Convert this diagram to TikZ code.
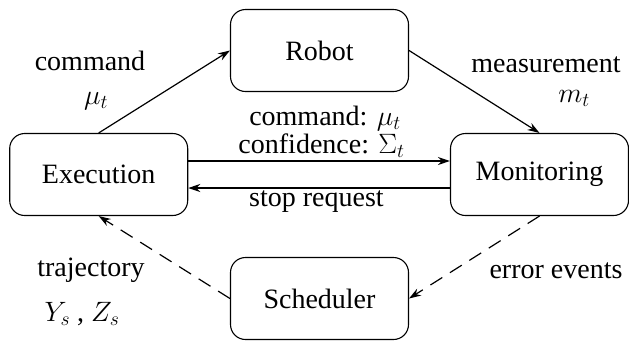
\RequirePackage{fix-cm}
\documentclass[tikz,border=0pt]{standalone}
\usepackage{fontspec}
\setmainfont{Liberation Serif}
\usetikzlibrary{arrows.meta}

\tikzset{
  block/.style={draw, line width=1.1pt, rounded corners=15pt,
    minimum width=178pt, minimum height=82pt, inner sep=0pt},
  flow/.style={line width=1.2pt, -{Stealth[length=12pt,width=8pt]}},
  soft/.style={flow, dash pattern=on 14pt off 9pt},
  lbl/.style={inner sep=0pt, anchor=base}
}

\begin{document}
\begin{tikzpicture}[x=1pt, y=-1pt, font=\fontsize{28}{33}\selectfont]
  \useasboundingbox (0,0) rectangle (629,341);

  % the four components
  \node[block] (rob) at (319.5,50.5)  {Robot};
  \node[block] (exe) at (98.7,174.5)  {Execution};
  \node[block] (mon) at (539.5,174.5) {Monitoring};
  \node[block] (sch) at (319.5,298.5) {Scheduler};

  % solid data paths
  \draw[flow] (exe.north) -- (rob.west);
  \draw[flow] (rob.east) -- (mon.north);
  \draw[flow] ([yshift=13.5pt]exe.east) -- ([yshift=13.5pt]mon.west);
  \draw[flow] ([yshift=-13.5pt]mon.west) -- ([yshift=-13.5pt]exe.east);

  % dashed event paths
  \draw[soft] (mon.south) -- (sch.east);
  \draw[soft] (sch.west) -- (exe.south);

  % labels, placed by their baselines
  \node[lbl] (l1)  at (90,70)    {command};
  \node[lbl] (l1m) at (96,104)   {$\mu_t$};
  \node[lbl] (l2)  at (546,72)   {measurement};
  \node[lbl] (l2m) at (574,102)  {$m_t$};
  \node[lbl] (l3)  at (325,125)  {command: $\mu_t$};
  \node[lbl] (l4)  at (321.5,153) {confidence: $\Sigma_t$};
  \node[lbl] (l5)  at (316.5,206.5) {stop request};
  \node[lbl] (l6)  at (91,276.5) {trajectory};
  \node[lbl] (l6m) at (82,321.5) {$Y_s$ , $Z_s$};
  \node[lbl] (l7)  at (556,278)  {error events};
\end{tikzpicture}
\end{document}
